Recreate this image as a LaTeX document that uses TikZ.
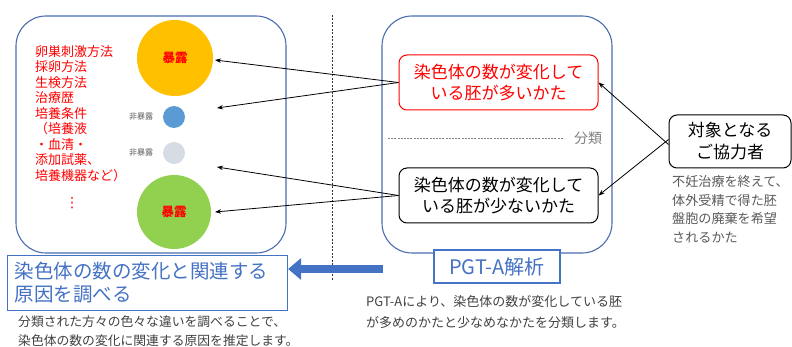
\documentclass[tikz,border=0pt]{standalone}
\usepackage{fontspec}
\setmainfont{Noto Sans CJK JP}
\newfontfamily\symfont{DejaVu Sans}
\usetikzlibrary{arrows.meta}
\definecolor{bblue}{HTML}{4472C4}
\definecolor{frameblue}{HTML}{4A6DB0}
\definecolor{corange}{HTML}{FFC000}
\definecolor{cblue}{HTML}{5B9BD5}
\definecolor{cgray}{HTML}{D6DCE4}
\definecolor{cgreen}{HTML}{92D050}
\definecolor{tgray}{HTML}{595959}
\definecolor{tdark}{HTML}{404040}
\tikzset{
  bigframe/.style={draw=frameblue, line width=1.1pt, rounded corners=30pt},
  catbox/.style={draw, line width=1pt, rounded corners=8pt, minimum width=199pt, minimum height=55pt, align=center, font=\fontsize{17}{21}\selectfont, inner sep=0pt},
  thinarrow/.style={-{Stealth[length=6pt,width=4.5pt]}, line width=0.8pt},
  expo/.style={circle, inner sep=0pt, text=red, font=\fontsize{12.5}{14}\selectfont\bfseries},
  nonexpo/.style={text=tgray, font=\fontsize{8}{10}\selectfont, inner sep=0pt},
}
\begin{document}
\begin{tikzpicture}[x=1pt,y=-1pt]
\useasboundingbox (0,0) rectangle (792,347);

% frames
\draw[bigframe] (16,16) rectangle (286,253);
\draw[bigframe] (382,16) rectangle (612,253);

% dashed separator
\coordinate (vtop) at (332,15);
\coordinate (vbot) at (332,280);
\draw[black!80, line width=0.8pt, dash pattern=on 2pt off 1.5pt] (vtop) -- (vbot);

% circles
\node[expo, fill=corange, minimum size=76pt] (orange) at (175,58) {暴露};
\node[circle, fill=cblue, minimum size=22pt, inner sep=0pt] (bluec) at (174,117) {};
\node[circle, fill=cgray, minimum size=22pt, inner sep=0pt] (grayc) at (174,153) {};
\node[expo, fill=cgreen, minimum size=74pt] (green) at (174,212) {暴露};
\node[nonexpo] (ne1) at (141,117) {非暴露};
\node[nonexpo] (ne2) at (141,153) {非暴露};

% red factor list
\node[anchor=north west, align=left, text=red, inner sep=0pt, font=\fontsize{13}{15.5}\selectfont] (factors) at (35,45)
{卵巣刺激方法\\採卵方法\\生検方法\\治療歴\\培養条件\\（培養液\\・血清・\\添加試薬、\\培養機器など）};
\node[text=red, inner sep=0pt, font=\symfont\fontsize{14}{15}\selectfont] (vdots) at (72,203) {⋮};

% category boxes
\node[catbox, draw=red, text=red] (rbox) at (498.5,82.5) {染色体の数が変化して\\いる胚が多いかた};
\node[catbox, draw=black, text=black] (kbox) at (498.5,195.5) {染色体の数が変化して\\いる胚が少ないかた};
\coordinate (hl) at (388,138);
\coordinate (hr) at (563,138);
\draw[gray, line width=0.6pt, dash pattern=on 2pt off 1.2pt] (hl) -- (hr);
\node[text=gray, font=\fontsize{14}{16}\selectfont, inner sep=0pt] (bunrui) at (588,138) {分類};

% contributor
\node[draw=black, line width=1pt, rounded corners=8pt, minimum width=122pt, minimum height=53pt, align=center, font=\fontsize{17}{22}\selectfont, inner sep=0pt] (contrib) at (730,141.5) {対象となる\\ご協力者};
\node[anchor=north west, align=left, text=tgray, inner sep=0pt, font=\fontsize{13.1}{18.5}\selectfont] (contribtxt) at (672,175.5)
{不妊治療を終えて、\\体外受精で得た胚\\盤胞の廃棄を希望\\されるかた};

% arrow targets
\coordinate (t1) at (215,60);
\coordinate (t2) at (217,108);
\coordinate (t3) at (217,167);
\coordinate (t4) at (215,212);
\coordinate (c1) at ([yshift=-3pt]contrib.west);
\coordinate (c2) at ([yshift=2pt]contrib.west);

\draw[thinarrow] (rbox.west) -- (t1);
\draw[thinarrow] (rbox.west) -- (t2);
\draw[thinarrow] (kbox.west) -- (t3);
\draw[thinarrow] (kbox.west) -- (t4);
\draw[thinarrow] (c1) -- (rbox.east);
\draw[thinarrow] (c2) -- (kbox.east);

% bottom labels
\node[draw=bblue, line width=1.1pt, fill=white, anchor=north west, minimum width=280pt, minimum height=55pt, text width=266pt, inner xsep=7pt, inner ysep=0pt, align=left, text=bblue, font=\fontsize{19.5}{23}\selectfont] (goal) at (7,255) {染色体の数の変化と関連する\\原因を調べる};
\node[draw=bblue, line width=1.1pt, fill=white, minimum width=126pt, minimum height=33pt, inner sep=0pt, text=bblue, font=\fontsize{20}{24}\selectfont] (pgt) at (497,266.5) {PGT-A解析};

\coordinate (astart) at (383,269);
\draw[bblue, line width=8pt, -{Triangle[length=13pt,width=21pt]}] (astart) -- (goal.east |- astart);

\node[anchor=west, align=left, text=tdark, inner sep=0pt, font=\fontsize{12.8}{19}\selectfont] (goaltxt) at (18,331.5)
{分類された方々の色々な違いを調べることで、\\染色体の数の変化に関連する原因を推定します。};
\node[anchor=west, align=left, text=tdark, inner sep=0pt, font=\fontsize{13}{21}\selectfont] (pgttxt) at (366,312.5)
{PGT-Aにより、染色体の数が変化している胚\\が多めのかたと少なめなかたを分類します。};
\end{tikzpicture}
\end{document}
